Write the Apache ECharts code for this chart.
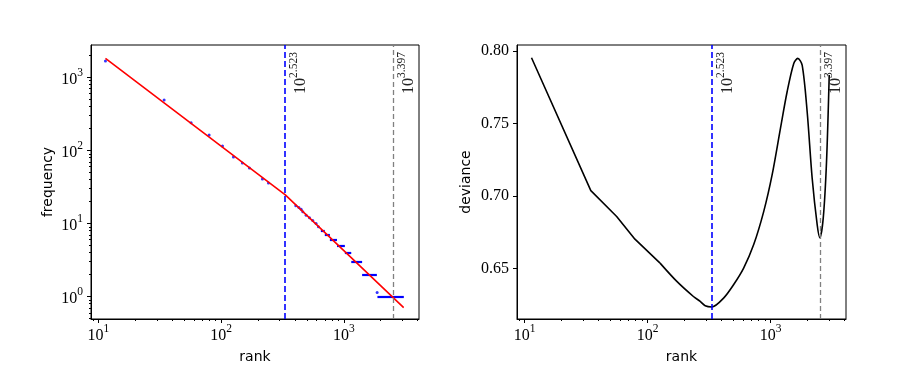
<!DOCTYPE html>
<html>
<head>
<meta charset="utf-8">
<script src="https://cdn.jsdelivr.net/npm/echarts@6/dist/echarts.min.js"></script>
<style>
    html, body { margin: 0; padding: 0; background: #fff; }
    #chart { width: 913px; height: 381px; }
</style>
</head>
<body>
<div id="chart"></div>
<script>
// rank / frequency points (left panel)
const rankPts = [11.4, 34.3, 56.9, 79.8, 102.6, 126, 149, 170, 217, 243, 406, 430, 449, 463, 493, 525, 558, 594, 621, 1870]
const freqPts = [1675, 491, 240, 163, 115, 81.5, 67.4, 57.6, 40.7, 35.9, 17.5, 16.5, 15.7, 14.5, 13, 12, 11, 10, 9, 1.14]
// runs of equal frequency in the tail
const stairFreq = [8, 7, 6, 5, 4, 3, 2, 1]
const stairStart = [650, 700, 770, 880, 1020, 1150, 1410, 1880]
const stairEnd = [700, 770, 880, 1020, 1150, 1410, 1860, 3085]
// fitted broken power law
const fitRank = [11.4, 333.4, 3077]
const fitFreq = [1824, 24.6, 0.705]
// deviance curve (right panel)
const devRank = [11.4, 34.6, 56.1, 79, 126.4, 173, 236, 268, 294, 333.4, 415, 500, 604, 728, 879, 1029, 1203, 1363, 1543, 1663, 1806, 1983, 2178, 2393, 2513, 2679, 2849, 2997]
const devVal = [0.7953, 0.7038, 0.6859, 0.6703, 0.6538, 0.6412, 0.6308, 0.6274, 0.6244, 0.6236, 0.6297, 0.6389, 0.6504, 0.6664, 0.6893, 0.7146, 0.7467, 0.7719, 0.7914, 0.7949, 0.7902, 0.7581, 0.7123, 0.6802, 0.6714, 0.6848, 0.7237, 0.7834]
// breakpoints (log10 of rank)
const breaks = [2.523, 3.397]
const breakColors = ['#0000ff', '#808080']
// ticks
const xMajor = [1, 2, 3]
const xMinorVals = [9, 20, 30, 40, 50, 60, 70, 80, 90, 200, 300, 400, 500, 600, 700, 800, 900, 2000, 3000, 4000]
const yMajor = [0, 1, 2, 3]
const yMinorVals = [0.5, 0.6, 0.7, 0.8, 0.9, 2, 3, 4, 5, 6, 7, 8, 9, 20, 30, 40, 50, 60, 70, 80, 90, 200, 300, 400, 500, 600, 700, 800, 900, 2000]
const devTicks = [0.65, 0.70, 0.75, 0.80]

const lg = Math.log10
const serif = 'Liberation Serif'
const sans = 'DejaVu Sans'
const xRange = [0.939, 3.613]
const yRange = [-0.307, 3.443]
const devRange = [0.6153, 0.8041]

function powRich(color) {
    return {
        b: { fontFamily: serif, fontSize: 16, color, lineHeight: 21, verticalAlign: 'bottom' },
        s: { fontFamily: serif, fontSize: 11.5, color, lineHeight: 17, verticalAlign: 'top' }
    }
}
const powLabel = v => `{b|10}{s|${+v.toFixed(3)}}`

function mainX(grid) {
    return {
        type: 'value', gridIndex: grid, position: 'bottom', min: xRange[0], max: xRange[1],
        name: 'rank', nameLocation: 'middle', nameGap: 31,
        nameTextStyle: { fontFamily: sans, fontSize: 14, color: '#000' },
        axisLine: { onZero: false, lineStyle: { color: '#000' } },
        axisTick: { customValues: xMajor, length: 4, lineStyle: { color: '#000' } },
        axisLabel: { customValues: xMajor, formatter: powLabel, rich: powRich('#000'), margin: 4 },
        splitLine: { show: false }
    }
}
function minorX(grid) {
    return {
        type: 'value', gridIndex: grid, position: 'bottom', min: xRange[0], max: xRange[1],
        axisLine: { show: false, onZero: false },
        axisTick: { customValues: xMinorVals.map(lg), length: 2, lineStyle: { color: '#000' } },
        axisLabel: { show: false }, splitLine: { show: false }
    }
}

function breakLines() {
    return {
        symbol: 'none', silent: true, animation: false,
        data: breaks.map((b, i) => ({
            xAxis: b,
            lineStyle: { color: breakColors[i], type: i === 0 ? [6, 3] : [5, 3], width: i === 0 ? 1.6 : 1.3 },
            label: {
                show: true, position: 'insideEndBottom', distance: [7, 3],
                formatter: powLabel(b), rich: powRich('#222')
            }
        }))
    }
}

const chart = echarts.init(document.getElementById('chart'))
chart.setOption({
    animation: false,
    backgroundColor: '#fff',
    grid: [
        { left: 91, right: 494, top: 45, bottom: 62, show: true, borderColor: '#000', borderWidth: 1 },
        { left: 517, right: 67, top: 45, bottom: 62, show: true, borderColor: '#000', borderWidth: 1 }
    ],
    xAxis: [mainX(0), minorX(0), mainX(1), minorX(1)],
    yAxis: [
        {
            type: 'value', gridIndex: 0, min: yRange[0], max: yRange[1],
            name: 'frequency', nameLocation: 'middle', nameGap: 36, nameRotate: 90,
            nameTextStyle: { fontFamily: sans, fontSize: 14, color: '#000' },
            axisLine: { onZero: false, lineStyle: { color: '#000' } },
            axisTick: { customValues: yMajor, length: 4, lineStyle: { color: '#000' } },
            axisLabel: { customValues: yMajor, formatter: powLabel, rich: powRich('#000'), margin: 8 },
            splitLine: { show: false }
        },
        {
            type: 'value', gridIndex: 0, min: yRange[0], max: yRange[1], position: 'left',
            axisLine: { show: false, onZero: false },
            axisTick: { customValues: yMinorVals.map(lg), length: 2, lineStyle: { color: '#000' } },
            axisLabel: { show: false }, splitLine: { show: false }
        },
        {
            type: 'value', gridIndex: 1, min: devRange[0], max: devRange[1],
            name: 'deviance', nameLocation: 'middle', nameGap: 44, nameRotate: 90,
            nameTextStyle: { fontFamily: sans, fontSize: 14, color: '#000' },
            axisLine: { onZero: false, lineStyle: { color: '#000' } },
            axisTick: { customValues: devTicks, length: 4, lineStyle: { color: '#000' } },
            axisLabel: {
                customValues: devTicks, formatter: v => v.toFixed(2), margin: 8,
                fontFamily: serif, fontSize: 16, color: '#000'
            },
            splitLine: { show: false }
        }
    ],
    series: [
        {
            type: 'scatter', xAxisIndex: 0, yAxisIndex: 0, symbolSize: 3,
            itemStyle: { color: '#0000ff' }, z: 2,
            data: rankPts.map((r, i) => [lg(r), lg(freqPts[i])])
        },
        {
            type: 'lines', coordinateSystem: 'cartesian2d', xAxisIndex: 0, yAxisIndex: 0, z: 2,
            lineStyle: { color: '#0000ff', width: 2.2, opacity: 1 },
            data: stairFreq.map((f, i) => ({ coords: [[lg(stairStart[i]), lg(f)], [lg(stairEnd[i]), lg(f)]] }))
        },
        {
            type: 'line', xAxisIndex: 0, yAxisIndex: 0, showSymbol: false, z: 3,
            lineStyle: { color: '#ff0000', width: 1.6 },
            data: fitRank.map((r, i) => [lg(r), lg(fitFreq[i])]),
            markLine: breakLines()
        },
        {
            // straight early part of the deviance curve
            type: 'line', xAxisIndex: 2, yAxisIndex: 2, showSymbol: false, z: 3,
            lineStyle: { color: '#000', width: 1.6 },
            data: devRank.slice(0, 5).map((r, i) => [lg(r), devVal[i]])
        },
        {
            type: 'line', xAxisIndex: 2, yAxisIndex: 2, showSymbol: false, smooth: 0.3, z: 3,
            lineStyle: { color: '#000', width: 1.6 },
            data: devRank.slice(4).map((r, i) => [lg(r), devVal[i + 4]]),
            markLine: breakLines()
        }
    ]
})
</script>
</body>
</html>
